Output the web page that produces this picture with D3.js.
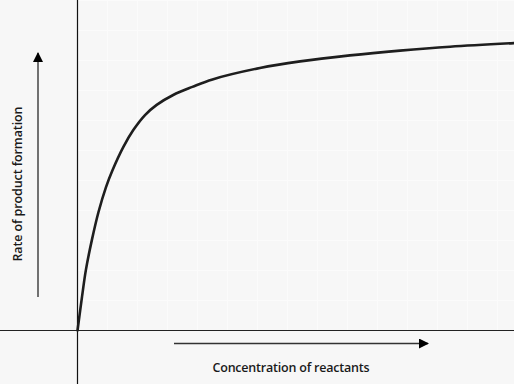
<!DOCTYPE html>
<html>
<head>
<meta charset="utf-8">
<script src="https://cdn.jsdelivr.net/npm/d3@7"></script>
<style>
  body { margin: 0; background: #f7f7f7; }
  svg { display: block; }
</style>
</head>
<body>
<svg id="chart" width="514" height="384"></svg>
<script>
// curve (1 unit = one grid cell)
const concentration = [0, 0.15, 0.28, 0.48, 0.70, 0.95, 1.17, 1.53, 1.86, 2.25, 2.64, 3.19, 3.83, 4.50, 6.08, 7.42, 9.08, 10.75, 12.42, 14.55];
const rate = [0, 1.12, 2.02, 3.02, 3.95, 4.78, 5.35, 6.12, 6.68, 7.18, 7.52, 7.85, 8.12, 8.37, 8.75, 8.97, 9.17, 9.33, 9.46, 9.58];
const xGrid = [1, 2, 3, 4, 5, 6, 7, 8, 9, 10, 11, 12, 13, 14];
const yGrid = [1, 2, 3, 4, 5, 6, 7, 8, 9, 10, 11];
const xLabel = "Concentration of reactants";
const yLabel = "Rate of product formation";

const svg = d3.select("#chart");
const width = 514, height = 384;
const origin = { x: 77.5, y: 330.5 };

const x = d3.scaleLinear().domain([0, 14.55]).range([origin.x, width]);
const y = d3.scaleLinear().domain([0, 11]).range([origin.y, 0.5]);

svg.append("rect").attr("width", width).attr("height", height).attr("fill", "#f7f7f7");

// faint background grid
const grid = svg.append("g").attr("stroke", "#ffffff").attr("stroke-width", 1).attr("opacity", 0.6);
grid.selectAll(".gx").data(xGrid).enter().append("line")
    .attr("x1", d => x(d)).attr("x2", d => x(d)).attr("y1", 0).attr("y2", origin.y);
grid.selectAll(".gy").data(yGrid).enter().append("line")
    .attr("x1", origin.x).attr("x2", width).attr("y1", d => y(d)).attr("y2", d => y(d));

// axes through the origin
svg.append("line").attr("x1", origin.x).attr("x2", origin.x).attr("y1", 0).attr("y2", height)
    .attr("stroke", "#111").attr("stroke-width", 1.2);
svg.append("line").attr("x1", 0).attr("x2", width).attr("y1", origin.y).attr("y2", origin.y)
    .attr("stroke", "#222").attr("stroke-width", 1.2);

// the curve
const pts = concentration.map((c, i) => [c, rate[i]]);
const line = d3.line().x(d => x(d[0])).y(d => y(d[1])).curve(d3.curveCatmullRom.alpha(0.5));
svg.append("path").datum(pts).attr("d", line).attr("fill", "none")
    .attr("stroke", "#1e1e1e").attr("stroke-width", 2.6).attr("stroke-linecap", "round");

// arrows
const defs = svg.append("defs");
defs.append("marker").attr("id", "head").attr("viewBox", "0 0 10 10").attr("refX", 9).attr("refY", 5)
    .attr("markerWidth", 10).attr("markerHeight", 10).attr("markerUnits", "userSpaceOnUse").attr("orient", "auto")
    .append("path").attr("d", "M0,0L10,5L0,10Z").attr("fill", "#000");

svg.append("line").attr("x1", 174).attr("x2", 428).attr("y1", 343.5).attr("y2", 343.5)
    .attr("stroke", "#333").attr("stroke-width", 1.5).attr("marker-end", "url(#head)");
svg.append("line").attr("x1", 38).attr("x2", 38).attr("y1", 297).attr("y2", 53)
    .attr("stroke", "#444").attr("stroke-width", 1.5).attr("marker-end", "url(#head)");

// labels
svg.append("text").attr("x", 291).attr("y", 372).attr("text-anchor", "middle")
    .style("font-family", "'Open Sans', sans-serif").style("font-size", "12.5px").style("font-weight", 600)
    .attr("fill", "#1a1a1a").attr("textLength", 157).text(xLabel);
svg.append("text").attr("transform", "translate(22,184) rotate(-90)").attr("text-anchor", "middle")
    .style("font-family", "'Open Sans', sans-serif").style("font-size", "12.5px").style("font-weight", 600)
    .attr("fill", "#1a1a1a").attr("textLength", 155).text(yLabel);
</script>
</body>
</html>
